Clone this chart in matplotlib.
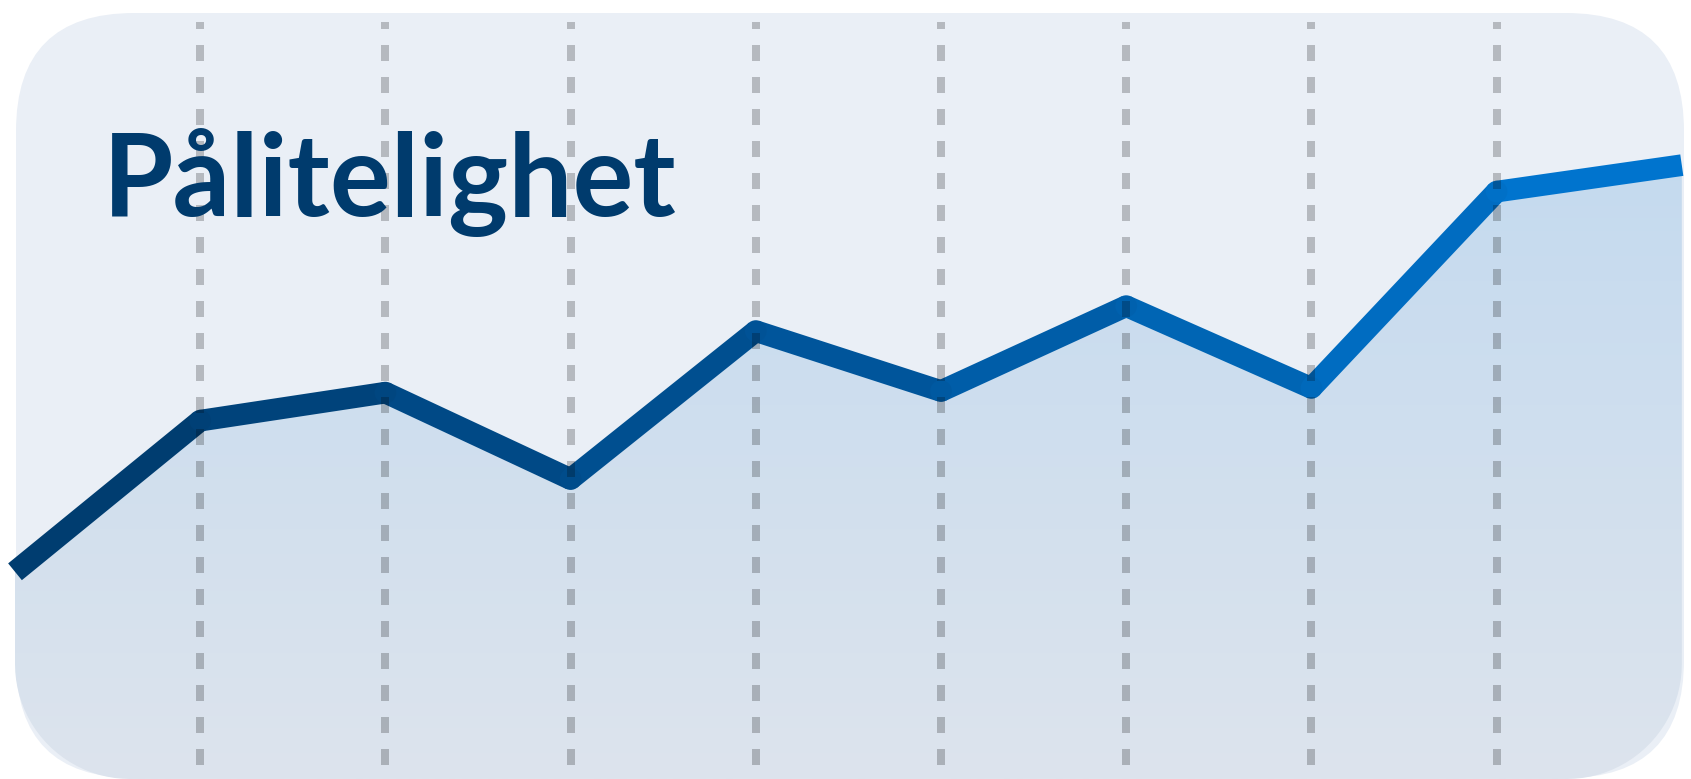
import numpy as np
import matplotlib
matplotlib.use("Agg")
import matplotlib.pyplot as plt
from matplotlib.collections import LineCollection
from matplotlib.colors import LinearSegmentedColormap, to_rgb
from matplotlib.patches import FancyBboxPatch, PathPatch
from matplotlib.path import Path

# data: reliability index over time
periods = np.arange(10)
reliability = [26.6, 46.0, 49.6, 38.5, 57.5, 49.8, 60.7, 50.2, 75.4, 78.8]
grid_at = [1, 2, 3, 4, 5, 6, 7, 8]
title = "Pålitelighet"

W, H = 1691, 779
fig = plt.figure(figsize=(W / 100, H / 100), dpi=100)
fig.patch.set_facecolor("white")

# background card, in pixel units
bg = fig.add_axes([0, 0, 1, 1], zorder=0)
bg.set_xlim(0, W)
bg.set_ylim(0, H)
bg.axis("off")
card = FancyBboxPatch((16, 1), 1668, 765, boxstyle="round,pad=0,rounding_size=118",
                      fc="#eaeff6", ec="none")
bg.add_patch(card)

# chart axes
ax = fig.add_axes([0, 0, 1, 1], zorder=1)
ax.patch.set_alpha(0)
ax.axis("off")
step = 185.2
x0px = 15.0
ax.set_xlim(-x0px / step, (W - x0px) / step)
ax.set_ylim(0, 100)

px_y = 100 / H          # one pixel in y units
px_x = 1 / step         # one pixel in x units

# area under the line with rounded bottom corners
r = 115
rx, ry = r * px_x, r * px_y
xs = periods.astype(float)
ys = np.array(reliability)
verts = list(zip(xs, ys))
t = np.linspace(0, -np.pi / 2, 24)
verts += [(xs[-1], ry)]
verts += list(zip(xs[-1] - rx + rx * np.cos(t), ry + ry * np.sin(t)))
t2 = np.linspace(-np.pi / 2, -np.pi, 24)
verts += list(zip(xs[0] + rx + rx * np.cos(t2), ry + ry * np.sin(t2)))
verts += [verts[0]]
codes = [Path.MOVETO] + [Path.LINETO] * (len(verts) - 2) + [Path.CLOSEPOLY]
area = Path(verts, codes)

top_c = np.array(to_rgb("#c4daef"))
bot_c = np.array(to_rgb("#dde4ed"))
g = np.linspace(0, 1, 256)[:, None]
grad = (top_c * (1 - g) + bot_c * g)[:, None, :]
im = ax.imshow(grad, extent=[ax.get_xlim()[0], ax.get_xlim()[1], 0, 80],
               aspect="auto", interpolation="bilinear", zorder=1)
clip = PathPatch(area, transform=ax.transData, fc="none", ec="none")
ax.add_patch(clip)
im.set_clip_path(clip)

# gradient line
cmap = LinearSegmentedColormap.from_list("rel", ["#003a6b", "#00559b", "#0078d4"])
lw = 15.6
segs = [[(xs[i], ys[i]), (xs[i + 1], ys[i + 1])] for i in range(len(xs) - 1)]
mids = (xs[:-1] + xs[1:]) / 2 / xs[-1]
lc = LineCollection(segs, colors=cmap(mids), linewidths=lw, capstyle="butt", zorder=3)
ax.add_collection(lc)
ax.scatter(xs[1:-1], ys[1:-1], s=lw ** 2, c=cmap(xs[1:-1] / xs[-1]),
           marker="o", linewidths=0, zorder=3)

# dashed vertical guides on top
top_val = (H - 22) * px_y
for gx in grid_at:
    ax.plot([gx, gx], [top_val, 0], color="black", alpha=0.225, lw=5.76,
            linestyle=(1.125, (2, 2)), solid_capstyle="butt",
            dash_capstyle="butt", zorder=4)

fig.text(103 / W, 1 - 216 / H, title, family=["Lato", "DejaVu Sans"],
         weight="bold", fontsize=82, color="#003b6d", va="baseline", ha="left",
         zorder=5)

fig.savefig("out.png", dpi=100, facecolor="white")
